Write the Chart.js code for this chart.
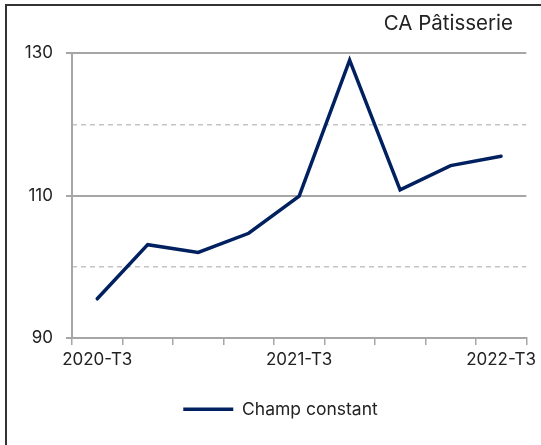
<!DOCTYPE html>
<html>
<head>
<meta charset="utf-8">
<script src="https://cdn.jsdelivr.net/npm/chart.js@4"></script>
<style>
  html, body { margin: 0; padding: 0; background: #fff; }
  #wrap { position: relative; width: 541px; height: 445px; overflow: hidden; }
  #frame { position: absolute; left: 5px; top: 4px; width: 700px; height: 600px;
           border-left: 2px solid #333; border-top: 2px solid #333; pointer-events: none; }
</style>
</head>
<body>
<div id="wrap">
  <canvas id="c" width="541" height="445"></canvas>
  <div id="frame"></div>
</div>
<script>
const categories = ["2020-T3","2020-T4","2021-T1","2021-T2","2021-T3","2021-T4","2022-T1","2022-T2","2022-T3"];
const champConstant = [95.5, 103.1, 102.0, 104.7, 109.9, 129.0, 110.8, 114.2, 115.5];
const yMin = 90, yMax = 130, yStep = 10, yLabelStep = 20;
const shownLabelEvery = 4;

const NAVY = '#002060';
const GRID_SOLID = '#a6a6a6';
const GRID_DASH = '#c4c4c4';
const TEXT = '#222222';

Chart.defaults.font.family = 'Inter, "Noto Sans", sans-serif';
Chart.defaults.color = TEXT;

const nudge = {
  id: 'nudge',
  afterLayout(chart) {
    const t = chart.titleBlock;
    if (t) { t.left -= 28; t.right -= 28; }
    const l = chart.legend;
    if (l) { l.left += 6; l.right += 6; }
  }
};

new Chart(document.getElementById('c'), {
  type: 'line',
  data: {
    labels: categories,
    datasets: [{
      label: 'Champ constant',
      data: champConstant,
      borderColor: NAVY,
      backgroundColor: NAVY,
      borderWidth: 3.5,
      pointRadius: 0,
      pointHoverRadius: 0,
      tension: 0,
      borderCapStyle: 'round',
      borderJoinStyle: 'miter',
      fill: false
    }]
  },
  options: {
    responsive: false,
    animation: false,
    devicePixelRatio: 1,
    layout: { padding: { left: 8, top: 6, right: 0, bottom: 17 } },
    plugins: {
      title: {
        display: true,
        text: 'CA Pâtisserie',
        align: 'end',
        color: TEXT,
        font: { size: 20.5, weight: 'normal' },
        padding: { top: 5.7, bottom: 16.7 }
      },
      legend: {
        display: true,
        position: 'bottom',
        labels: {
          usePointStyle: true,
          pointStyle: 'line',
          pointStyleWidth: 50,
          boxHeight: 17,
          color: TEXT,
          font: { size: 17.5 },
          padding: 10
        }
      },
      tooltip: { enabled: false }
    },
    scales: {
      x: {
        offset: true,
        grid: {
          offset: true,
          drawOnChartArea: false,
          drawTicks: true,
          tickLength: 7,
          color: GRID_SOLID,
          lineWidth: 1.5
        },
        border: { display: true, color: GRID_SOLID, width: 2 },
        ticks: {
          autoSkip: false,
          maxRotation: 0,
          padding: 5,
          font: { size: 17 },
          color: TEXT,
          callback: function(v, i) { return i % shownLabelEvery === 0 ? categories[i] : ''; }
        },
        afterFit(scale) { scale.height = 52.5; }
      },
      y: {
        min: yMin, max: yMax,
        position: 'left',
        grid: {
          drawTicks: true,
          tickLength: 6,
          lineWidth: 2,
          color: (ctx) => (ctx.tick && (ctx.tick.value - yMin) % yLabelStep === 0) ? GRID_SOLID : 'rgba(0,0,0,0)'
        },
        border: { display: true, color: GRID_SOLID, width: 2 },
        ticks: {
          stepSize: yStep,
          padding: 13,
          font: { size: 17 },
          color: TEXT,
          callback: (v) => ((v - yMin) % yLabelStep === 0 ? String(v) : '')
        },
        afterFit(scale) { scale.width = 64; }
      },
      y2: {
        min: yMin, max: yMax,
        position: 'left',
        grid: {
          drawTicks: false,
          lineWidth: 1.5,
          color: (ctx) => (ctx.tick && (ctx.tick.value - yMin) % yLabelStep !== 0) ? GRID_DASH : 'rgba(0,0,0,0)'
        },
        border: { display: false, dash: [5, 4] },
        ticks: { display: false, stepSize: yStep }
      }
    }
  },
  plugins: [nudge]
});
</script>
</body>
</html>
